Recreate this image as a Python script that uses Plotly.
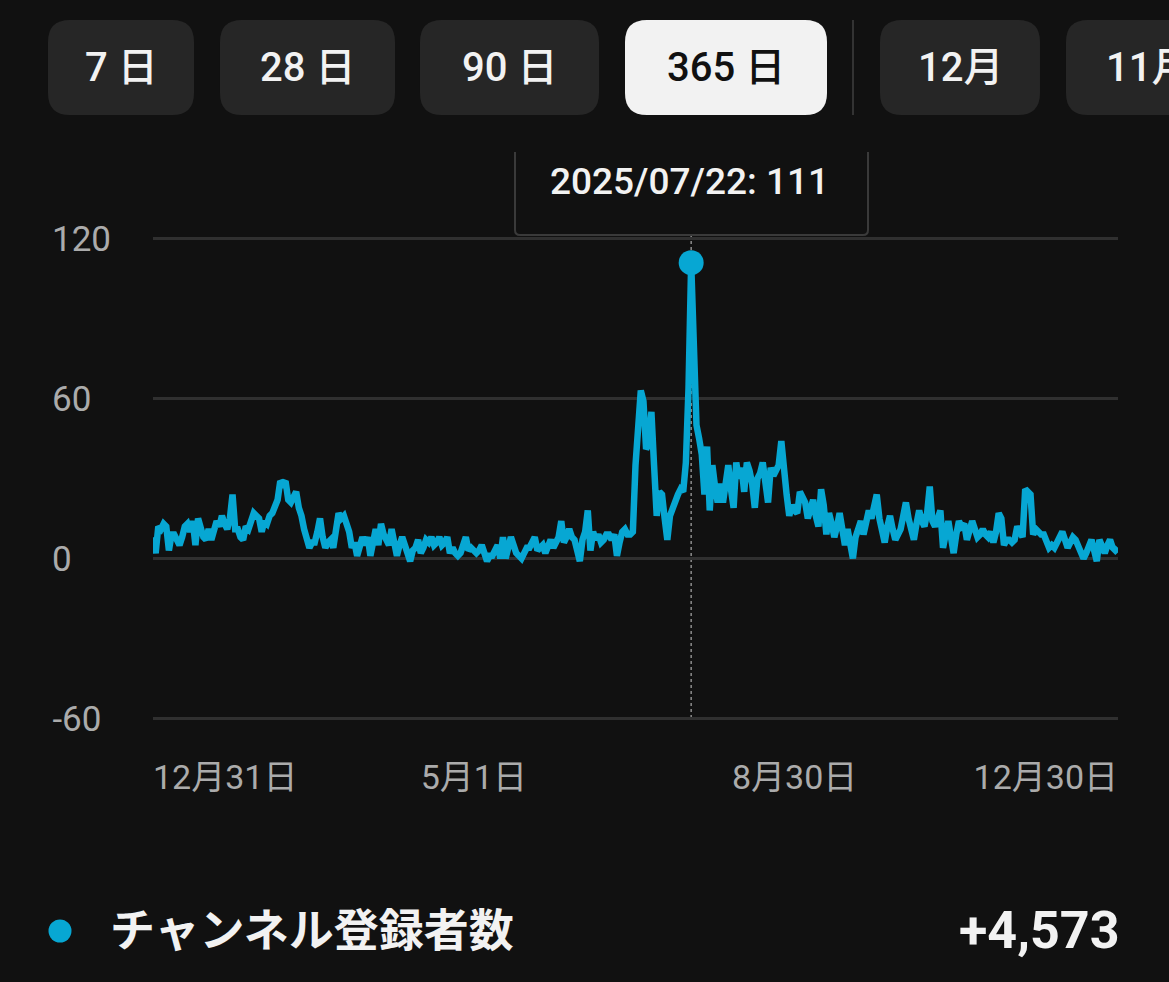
import pandas as pd
import plotly.graph_objects as go

# ---------------- data ----------------
START_DATE = "2024-12-31"
subscribers = [
    8, 2, 12, 11, 13, 12, 3, 9, 9, 7,
    5, 8, 12, 13, 10, 14, 5, 15, 12, 8,
    7, 11, 7, 10, 14, 12, 16, 13, 11, 15,
    24, 11, 11, 8, 7, 12, 11, 14, 17, 16,
    15, 10, 14, 13, 16, 17, 20, 22, 29, 28,
    29, 22, 21, 23, 25, 19, 16, 11, 7, 4,
    6, 6, 10, 15, 8, 4, 6, 7, 4, 10,
    17, 15, 16, 13, 10, 4, 6, 1, 5, 8,
    5, 8, 1, 6, 11, 5, 13, 9, 7, 5,
    11, 6, 1, 5, 8, 5, 2, -1, 3, 4,
    7, 2, 4, 7, 6, 8, 5, 6, 8, 5,
    6, 8, 2, 4, 2, 1, 2, 5, 8, 3,
    4, 3, 2, 3, 5, 2, -1, 1, 1, 3,
    5, 0, 8, 0, 4, 8, 5, 2, 1, 0,
    2, 4, 4, 6, 8, 3, 4, 5, 2, 5,
    7, 4, 6, 8, 14, 6, 8, 11, 8, 7,
    3, -1, 7, 10, 18, 3, 10, 7, 9, 6,
    7, 9, 9, 7, 9, 1, 6, 10, 11, 9,
    9, 10, 35, 55, 63, 59, 41, 43, 55, 35,
    16, 25, 24, 15, 7, 16, 19, 21, 24, 26,
    25, 36, 64, 111, 69, 50, 45, 39, 24, 42,
    18, 35, 27, 21, 28, 21, 28, 35, 26, 19,
    36, 30, 34, 25, 36, 33, 28, 19, 30, 32,
    36, 27, 21, 34, 31, 33, 35, 44, 32, 24,
    16, 20, 18, 17, 25, 23, 21, 15, 18, 22,
    16, 12, 26, 20, 9, 17, 13, 8, 12, 17,
    11, 5, 11, 6, 0, 8, 12, 14, 9, 14,
    18, 15, 20, 24, 15, 10, 6, 12, 16, 11,
    7, 9, 11, 16, 21, 15, 10, 7, 13, 18,
    14, 12, 17, 27, 14, 12, 15, 18, 4, 9,
    14, 8, 2, 9, 14, 12, 13, 7, 10, 14,
    11, 8, 9, 11, 9, 8, 10, 6, 10, 17,
    15, 5, 7, 7, 6, 7, 12, 10, 8, 26,
    25, 24, 9, 11, 10, 9, 9, 7, 4, 5,
    4, 6, 8, 10, 7, 4, 6, 8, 7, 5,
    3, 0, 2, 5, 7, 3, -1, 7, 4, 2,
    5, 7, 4, 3, 4,
]
dates = pd.date_range(START_DATE, periods=len(subscribers), freq="D")

y_tick_vals = [-60, 0, 60, 120]
y_tick_text = ["-60\u2008", "0\u2007\u2007", "60\u2007", "120"]
x_mid_ticks = ["2025-05-01", "2025-08-30"]
x_mid_text = ["5月1日", "8月30日"]
x_first_text = "12月31日"
x_last_text = "12月30日"
range_buttons = ["7 日", "28 日", "90 日", "365 日"]
month_buttons = ["12月", "11月"]
selected_button = "365 日"
series_name = "チャンネル登録者数"
total_label = "+4,573"

# ---------------- style ----------------
BG = "#111111"
CYAN = "#07a7d3"
GRID = "#303030"
TICK = "#ababab"
FONT = "Roboto, 'Noto Sans CJK JP', sans-serif"

W, H = 1169, 982
L, R, T, B = 153, 51, 236, 261
PW, PH = W - L - R, H - T - B


def xp(px):
    return (px - L) / PW


def yp(py):
    return (H - B - py) / PH


def rounded_path(x0, y0, x1, y1, r):
    pts = [
        ("M", [(x0 + r, y0)]),
        ("L", [(x1 - r, y0)]),
        ("Q", [(x1, y0), (x1, y0 + r)]),
        ("L", [(x1, y1 - r)]),
        ("Q", [(x1, y1), (x1 - r, y1)]),
        ("L", [(x0 + r, y1)]),
        ("Q", [(x0, y1), (x0, y1 - r)]),
        ("L", [(x0, y0 + r)]),
        ("Q", [(x0, y0), (x0 + r, y0)]),
    ]
    s = ""
    for cmd, ps in pts:
        s += cmd + " " + " ".join(f"{xp(a):.5f},{yp(b):.5f}" for a, b in ps) + " "
    return s + "Z"


peak_i = max(range(len(subscribers)), key=lambda i: subscribers[i])
peak_date = dates[peak_i]
peak_val = subscribers[peak_i]

fig = go.Figure()
fig.add_trace(go.Scatter(
    x=dates, y=subscribers, mode="lines",
    line=dict(color=CYAN, width=6.5), hoverinfo="skip", showlegend=False,
))
fig.add_trace(go.Scatter(
    x=[peak_date], y=[peak_val], mode="markers",
    marker=dict(color=CYAN, size=25), hoverinfo="skip", showlegend=False,
))
# helper traces for edge-aligned date labels
for ax in ["x2", "x3"]:
    fig.add_trace(go.Scatter(
        x=[dates[0], dates[-1]], y=[0, 0], xaxis=ax, mode="markers",
        marker=dict(opacity=0), hoverinfo="skip", showlegend=False,
    ))

xrange = [dates[0], dates[-1]]
common_x = dict(type="date", range=xrange, showgrid=False, zeroline=False,
                showline=False, ticks="", tickfont=dict(size=34, color=TICK, family=FONT),
                ticklabelstandoff=33, fixedrange=True)

fig.update_layout(
    width=W, height=H, autosize=False,
    margin=dict(l=L, r=R, t=T, b=B, pad=0),
    paper_bgcolor=BG, plot_bgcolor=BG,
    font=dict(family=FONT, color="#f2f2f2"),
    showlegend=False,
    xaxis=dict(**common_x, tickvals=x_mid_ticks, ticktext=x_mid_text),
    xaxis2=dict(**common_x, overlaying="x", anchor="y", side="bottom",
                tickvals=[dates[0]], ticktext=[x_first_text],
                ticklabelposition="outside right"),
    xaxis3=dict(**common_x, overlaying="x", anchor="y", side="bottom",
                tickvals=[dates[-1]], ticktext=[x_last_text],
                ticklabelposition="outside left"),
    yaxis=dict(range=[-61, 121], tickvals=y_tick_vals, ticktext=y_tick_text,
               showgrid=True, gridcolor=GRID, gridwidth=3, zeroline=False,
               showline=False, ticks="", ticklabelstandoff=41,
               tickfont=dict(size=35, color=TICK, family=FONT), fixedrange=True),
)

shapes = []
annotations = []

# buttons
btn_boxes = [(48, 194), (220, 395), (420, 599), (625, 827), (880, 1040), (1066, 1230)]
labels = range_buttons + month_buttons
for (bx0, bx1), lab in zip(btn_boxes, labels):
    sel = lab == selected_button
    shapes.append(dict(type="path", xref="paper", yref="paper",
                       path=rounded_path(bx0, 20, bx1, 115, 22),
                       fillcolor="#f2f2f2" if sel else "#262626",
                       line=dict(width=0), layer="above"))
    annotations.append(dict(xref="paper", yref="paper", x=xp((bx0 + bx1) / 2), y=yp(68),
                            text=lab, showarrow=False, xanchor="center", yanchor="middle",
                            font=dict(size=40, color="#111111" if sel else "#f2f2f2",
                                      family=FONT, weight=500)))
# separator
shapes.append(dict(type="line", xref="paper", yref="paper",
                   x0=xp(853), x1=xp(853), y0=yp(20), y1=yp(115),
                   line=dict(color="#333333", width=2), layer="above"))

# tooltip box (open top)
tp = (f"M {xp(515):.5f},{yp(152):.5f} L {xp(515):.5f},{yp(230):.5f} "
      f"Q {xp(515):.5f},{yp(235):.5f} {xp(520):.5f},{yp(235):.5f} "
      f"L {xp(863):.5f},{yp(235):.5f} Q {xp(868):.5f},{yp(235):.5f} {xp(868):.5f},{yp(230):.5f} "
      f"L {xp(868):.5f},{yp(152):.5f}")
shapes.append(dict(type="path", xref="paper", yref="paper", path=tp,
                   line=dict(color="#3a3a3a", width=2), layer="above"))
annotations.append(dict(xref="paper", yref="paper", x=xp(689), y=yp(182),
                        text=f"{peak_date:%Y/%m/%d}: {peak_val}", showarrow=False,
                        xanchor="center", yanchor="middle",
                        font=dict(size=37, color="#f2f2f2", family=FONT, weight=500)))

# dotted crosshair
shapes.append(dict(type="line", xref="x", yref="paper", x0=peak_date, x1=peak_date,
                   y0=yp(718), y1=yp(236), line=dict(color="#8c8c8c", width=1.5, dash="dot"),
                   layer="below"))

# legend row
shapes.append(dict(type="circle", xref="paper", yref="paper",
                   x0=xp(48.5), x1=xp(71.5), y0=yp(919.5), y1=yp(942.5),
                   fillcolor=CYAN, line=dict(width=0), layer="above"))
annotations.append(dict(xref="paper", yref="paper", x=xp(108), y=yp(931),
                        text=series_name, showarrow=False, xanchor="left", yanchor="middle",
                        font=dict(size=45, color="#f2f2f2", family=FONT, weight="bold")))
annotations.append(dict(xref="paper", yref="paper", x=xp(1121), y=yp(930),
                        text=total_label, showarrow=False, xanchor="right", yanchor="middle",
                        font=dict(size=52, color="#f2f2f2", family=FONT, weight="bold")))

fig.update_layout(shapes=shapes, annotations=annotations)
fig.write_html("out.html", config={"displayModeBar": False, "staticPlot": True})
